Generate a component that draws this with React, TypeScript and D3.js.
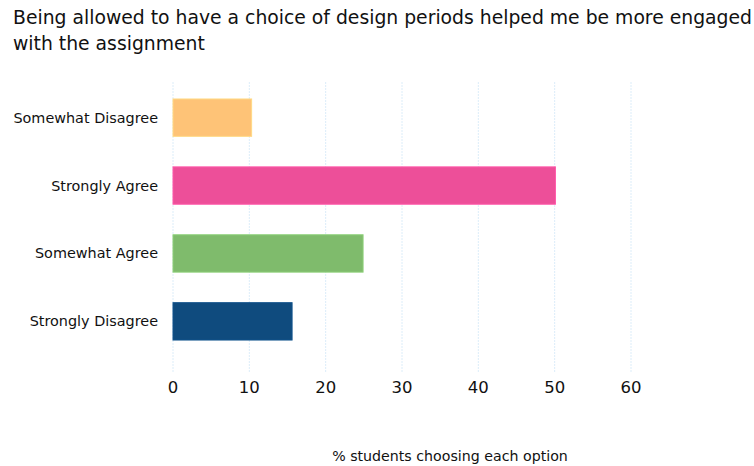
import React from "react";
import * as d3 from "d3";

const categories = ["Somewhat Disagree", "Strongly Agree", "Somewhat Agree", "Strongly Disagree"];
const values = [10.3, 50.1, 24.9, 15.6];
const colors = ["#fec377", "#ed4f99", "#7fbb6c", "#0f4b7e"];
const xTicks = [0, 10, 20, 30, 40, 50, 60];
const titleLines = [
  "Being allowed to have a choice of design periods helped me be more engaged",
  "with the assignment",
];
const xAxisTitle = "% students choosing each option";

const W = 754;
const H = 466;
const FONT = "'DejaVu Sans', Verdana, sans-serif";

export default function App() {
  const x = d3.scaleLinear().domain([0, 60]).range([173, 631]);
  const y = d3.scaleBand<string>().domain(categories).range([82, 357]).paddingInner(0.45).paddingOuter(0.25);
  return (
    <svg width={W} height={H} style={{ position: "absolute", left: 0, top: 0 }} fontFamily={FONT}>
      <rect width={W} height={H} fill="#ffffff" />
      {titleLines.map((t, i) => (
        <text key={i} x={13} y={24 + i * 26} fontSize={18.8} fill="#111">
          {t}
        </text>
      ))}
      {xTicks.map((t) => (
        <line key={"g" + t} x1={x(t)} x2={x(t)} y1={82} y2={372} stroke="#dcedf9" strokeWidth={1} strokeDasharray="2,1" />
      ))}
      {categories.map((c, i) => (
        <g key={c}>
          <rect
            x={x(0)}
            y={y(c)}
            width={x(values[i]) - x(0)}
            height={y.bandwidth()}
            fill={colors[i]}
            stroke={d3.color(colors[i])!.brighter(0.3).toString()}
            strokeWidth={1}
          />
          <text x={158} y={(y(c) as number) + y.bandwidth() / 2} dy="0.35em" textAnchor="end" fontSize={14.4} fill="#111">
            {c}
          </text>
        </g>
      ))}
      {xTicks.map((t) => (
        <text key={"t" + t} x={x(t)} y={393} textAnchor="middle" fontSize={16.5} fill="#111">
          {t}
        </text>
      ))}
      <text x={450} y={461} textAnchor="middle" fontSize={14.2} fill="#111">
        {xAxisTitle}
      </text>
    </svg>
  );
}
